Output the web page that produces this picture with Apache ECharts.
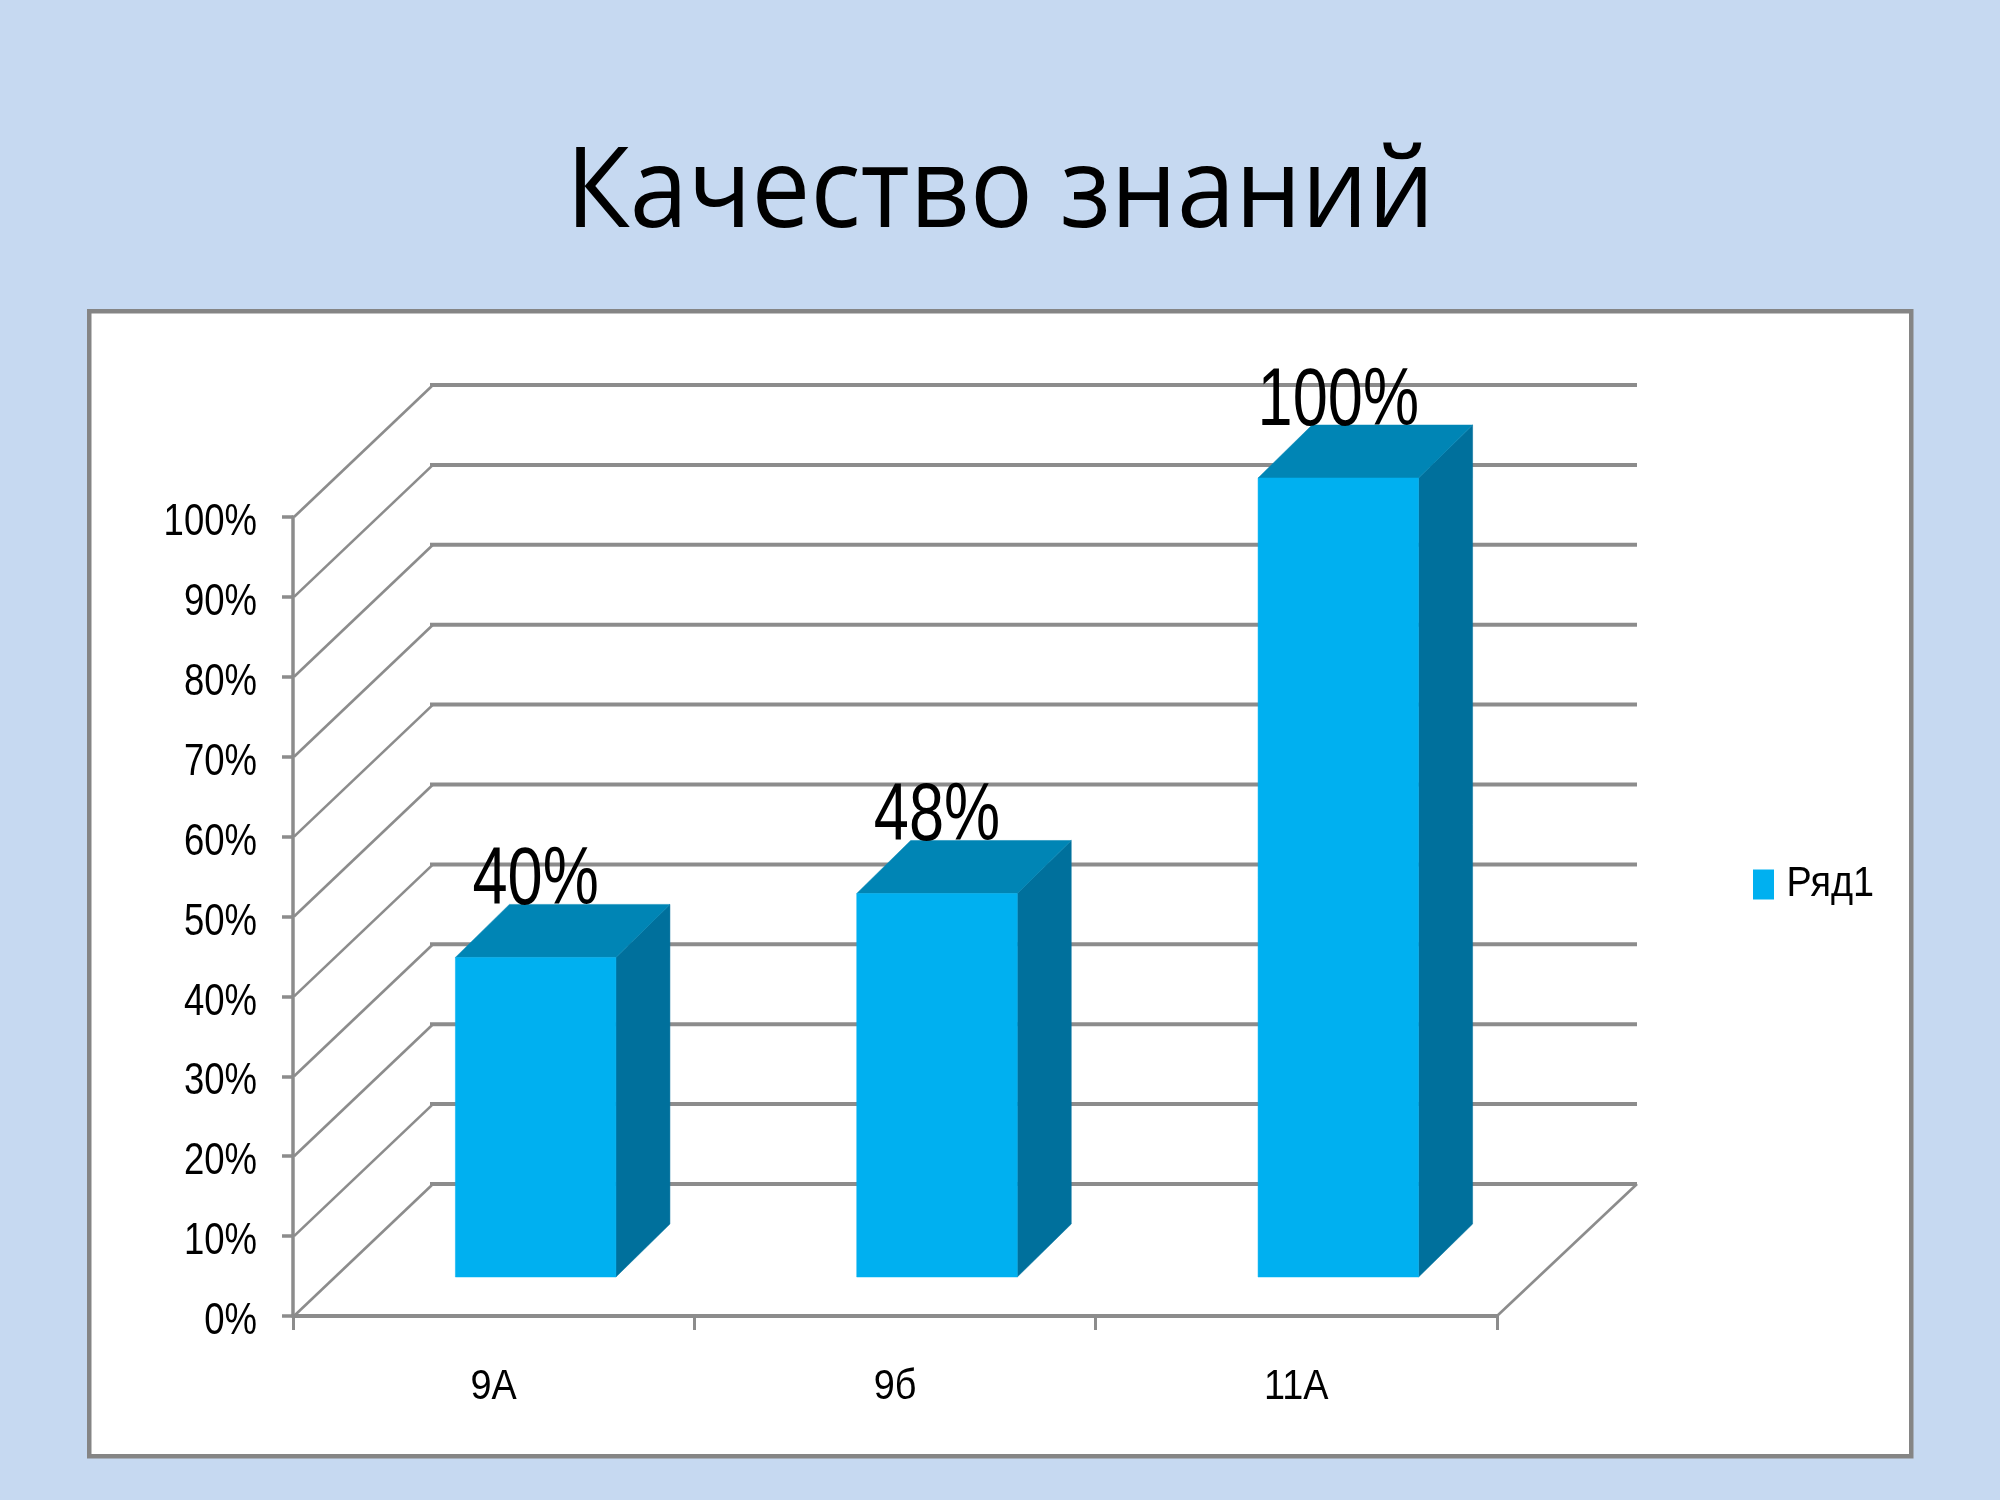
<!DOCTYPE html>
<html>
<head>
<meta charset="utf-8">
<style>html,body{margin:0;padding:0;background:#c6d9f1}#c{width:2000px;height:1500px}</style>
<script src="https://cdn.jsdelivr.net/npm/echarts@6/dist/echarts.min.js"></script>
</head>
<body>
<div id="c"></div>
<script>
const categories = ['9А', '9б', '11А'];
const values = [40, 48, 100];
const ticks = [0, 10, 20, 30, 40, 50, 60, 70, 80, 90, 100];
const seriesName = 'Ряд1';
const titleText = 'Качество знаний';

const CHART_FONT = '"Liberation Sans",sans-serif';
const TITLE_FONT = '"Open Sans","Noto Sans",sans-serif';
const WALL = { x: 140, y: 132 };
const BAR_OFF = { x: 42, y: 39 };
const BAR_DEPTH = { x: 54, y: 53 };
const LINE = '#8c8c8c';

function renderWall(params, api) {
  const v = api.value(1);
  const c = api.coord([0, v]);
  const band = api.size([1, 0])[0];
  const left = c[0] - band / 2;
  const right = left + band * categories.length;
  const y = c[1];
  const kids = [
    { type: 'line', shape: { x1: left + 1, y1: y, x2: left + WALL.x, y2: y - WALL.y }, style: { stroke: LINE, lineWidth: 2.6 } },
    { type: 'line', shape: { x1: left + WALL.x - 3, y1: y - WALL.y, x2: right + WALL.x, y2: y - WALL.y }, style: { stroke: LINE, lineWidth: 4 } }
  ];
  if (v === 0) {
    kids.push({ type: 'line', shape: { x1: right, y1: y, x2: right + WALL.x, y2: y - WALL.y }, style: { stroke: LINE, lineWidth: 2.6 } });
  }
  return { type: 'group', children: kids };
}

function renderBar(params, api) {
  const idx = api.value(0);
  const v = api.value(1);
  const top = api.coord([idx, v]);
  const base = api.coord([idx, 0]);
  const w = api.size([1, 0])[0] * 0.4;
  const x0 = top[0] + BAR_OFF.x - w / 2;
  const x1 = x0 + w;
  const yT = base[1] - BAR_OFF.y - (base[1] - top[1]);
  const yB = base[1] - BAR_OFF.y;
  const dx = BAR_DEPTH.x, dy = BAR_DEPTH.y;
  const poly = (pts, fill) => ({ type: 'polygon', shape: { points: pts }, style: { fill: fill, stroke: fill, lineWidth: 0.5 } });
  return {
    type: 'group',
    children: [
      poly([[x1, yT], [x1 + dx, yT - dy], [x1 + dx, yB - dy], [x1, yB]], '#00709c'),
      poly([[x0, yT], [x0 + dx, yT - dy], [x1 + dx, yT - dy], [x1, yT]], '#0085b5'),
      poly([[x0, yT], [x1, yT], [x1, yB], [x0, yB]], '#00b0f0'),
      {
        type: 'text', z2: 10, x: (x0 + x1) / 2, y: yT - 76,
        style: {
          text: v + '%', x: 0, y: 0, align: 'center', verticalAlign: 'middle',
          fontFamily: CHART_FONT, fontSize: 82, fill: '#000'
        }
      }
    ]
  };
}

const chart = echarts.init(document.getElementById('c'), null, { renderer: 'canvas' });
chart.setOption({
  animation: false,
  backgroundColor: '#c6d9f1',
  title: {
    text: titleText, left: 561, top: 134,
    textStyle: { fontFamily: TITLE_FONT, fontSize: 112, fontWeight: 'normal', color: '#000' }
  },
  graphic: [{
    type: 'rect', left: 87, top: 309, z: -1,
    shape: { width: 1822, height: 1145 },
    style: { fill: '#ffffff', stroke: '#858585', lineWidth: 4.5 }
  }],
  legend: {
    left: 1753, top: 863, icon: 'rect', itemWidth: 21, itemHeight: 30, itemGap: 0, padding: 0,
    data: [{ name: seriesName, itemStyle: { color: '#00b0f0' } }],
    textStyle: { fontFamily: CHART_FONT, fontSize: 43, color: '#000', padding: [0, 0, 0, 12] }
  },
  grid: { left: 293, top: 517, width: 1204, height: 799, containLabel: false },
  xAxis: {
    type: 'category', data: categories,
    axisLine: { show: true, lineStyle: { color: LINE, width: 4 } },
    axisTick: { show: true, length: 14, alignWithLabel: false, lineStyle: { color: LINE, width: 3 } },
    axisLabel: { fontFamily: CHART_FONT, fontSize: 43, color: '#000', margin: 50 },
    splitLine: { show: false }
  },
  yAxis: {
    type: 'value', min: 0, max: 100, interval: 10,
    axisLine: { show: true, lineStyle: { color: LINE, width: 3.5 } },
    axisTick: { show: true, length: 11, lineStyle: { color: LINE, width: 3.5 } },
    axisLabel: { formatter: '{value}%', fontFamily: CHART_FONT, fontSize: 44, color: '#000', margin: 36 },
    splitLine: { show: false }
  },
  series: [
    {
      name: 'wall', type: 'custom', silent: true, z: 1, renderItem: renderWall,
      data: ticks.map(t => [0, t]), encode: { x: 0, y: 1 }
    },
    {
      name: seriesName, type: 'custom', z: 3, renderItem: renderBar,
      itemStyle: { color: '#00b0f0' },
      data: values.map((v, i) => [i, v]), encode: { x: 0, y: 1 }
    }
  ]
});

// The reference uses a condensed face; none is installed, so the real text is narrowed horizontally.
const TEXT_SCALE = { 112: 0.935, 82: 0.77, 44: 0.83, 43: 0.88 };
const TEXT_SHIFT_Y = { 44: 6 };
(function condense(els) {
  els.forEach(function walk(el) {
    if (el.type === 'text' && el.style && el.style.text != null) {
      el.scaleX = TEXT_SCALE[el.style.fontSize] || 1;
      el.y += TEXT_SHIFT_Y[el.style.fontSize] || 0;
      el.markRedraw();
    }
    if (el.isGroup && el.children) el.children().forEach(walk);
  });
})(chart.getZr().storage.getRoots());
chart.getZr().refresh();
</script>
</body>
</html>
